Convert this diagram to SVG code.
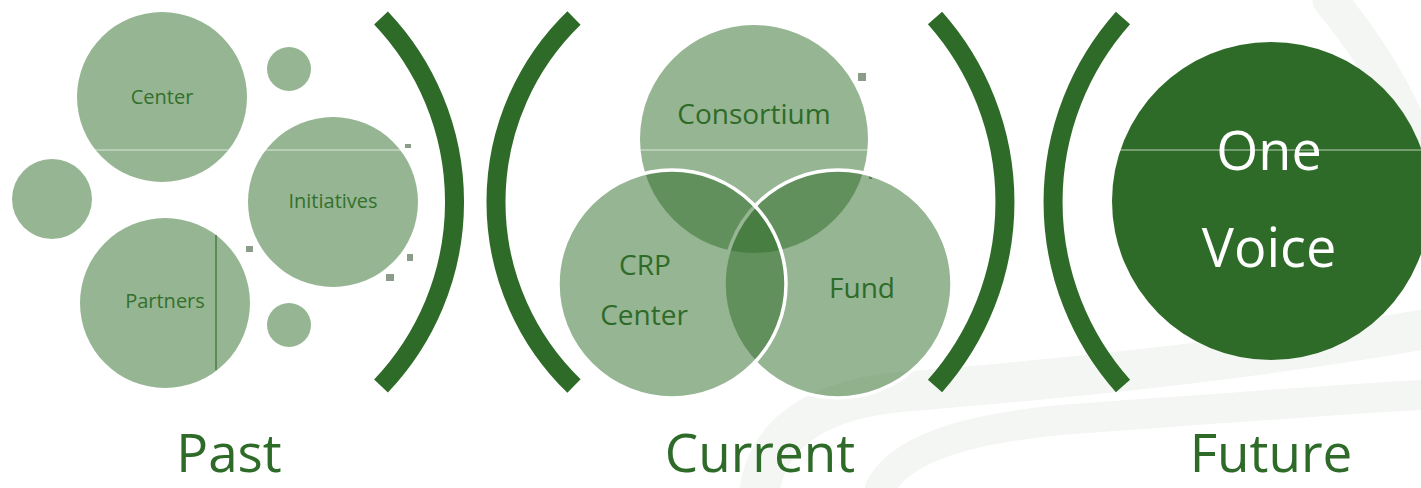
<svg xmlns="http://www.w3.org/2000/svg" width="1421" height="488" viewBox="0 0 1421 488">
  <style>
    .bg { fill: #ffffff; }
    .wm { fill: none; stroke: #f4f6f3; stroke-linecap: round; }
    .soft { fill: #2e6b28; fill-opacity: 0.5; }
    .venn { fill: #2e6b28; fill-opacity: 0.5; stroke: #ffffff; stroke-width: 3.5; }
    .dark { fill: #2e6b28; }
    .br { fill: none; stroke: #2e6b28; stroke-width: 19; stroke-linecap: butt; }
    .lbl { font-family: "Open Sans", "Noto Sans", sans-serif; fill: #2e6b28; text-anchor: middle; }
    .sm { font-size: 20px; fill: #33702c; }
    .md { font-size: 28px; }
    .big { font-size: 54px; }
    .title { font-size: 53px; }
    .white { fill: #ffffff; }
    .handle { fill: #8c9c8a; }
  </style>
  <rect class="bg" x="0" y="0" width="1421" height="488"/>

  <!-- faint background watermark -->
  <g id="watermark">
    <path class="wm" stroke-width="40" d="M760 488 C 770 430 820 400 900 392 C 1050 380 1250 360 1421 330"/>
    <path class="wm" stroke-width="30" d="M880 488 C 900 450 960 430 1060 420 C 1200 410 1330 400 1421 395"/>
    <path class="wm" stroke-width="35" d="M1330 0 C 1380 60 1410 120 1421 160"/>
  </g>

  <!-- Past -->
  <g id="past-center">
    <circle class="soft" cx="162" cy="97" r="85"/>
    <text class="lbl sm" x="162" y="104">Center</text>
  </g>
  <g id="past-small-top">
    <circle class="soft" cx="289" cy="69" r="22"/>
  </g>
  <g id="past-small-left">
    <circle class="soft" cx="52" cy="199" r="40"/>
  </g>
  <g id="past-initiatives">
    <circle class="soft" cx="333" cy="202" r="85"/>
    <text class="lbl sm" x="333" y="208">Initiatives</text>
  </g>
  <g id="past-partners">
    <circle class="soft" cx="165" cy="303" r="85"/>
    <line x1="216" y1="235" x2="216" y2="370" stroke="#4a7e43" stroke-width="1.5"/>
    <text class="lbl sm" x="165" y="308">Partners</text>
  </g>
  <g id="past-small-bottom">
    <circle class="soft" cx="289" cy="325" r="22"/>
  </g>
  <g id="handles">
    <rect class="handle" x="405" y="144" width="6" height="4"/>
    <rect class="handle" x="246" y="246" width="7" height="6"/>
    <rect class="handle" x="407" y="254" width="6" height="7"/>
    <rect class="handle" x="386" y="274" width="8" height="7"/>
    <rect class="handle" x="858" y="73" width="8" height="8"/>
    <rect class="handle" x="869" y="176" width="3" height="3"/>
  </g>

  <!-- Current -->
  <g id="current-consortium">
    <circle class="soft" cx="754" cy="139" r="114"/>
  </g>
  <g id="current-fund">
    <circle class="venn" cx="838" cy="284" r="114"/>
  </g>
  <g id="current-crp-center">
    <circle class="venn" cx="672" cy="284" r="114"/>
  </g>
  <g id="current-labels">
    <text class="lbl md" x="754" y="124">Consortium</text>
    <text class="lbl md" x="645" y="275">CRP</text>
    <text class="lbl md" x="644" y="325">Center</text>
    <text class="lbl md" x="862" y="298">Fund</text>
  </g>

  <!-- Future -->
  <g id="future-one-voice">
    <circle class="dark" cx="1271" cy="201" r="159"/>
    <text class="lbl big white" x="1269" y="170">One</text>
    <text class="lbl big white" x="1269" y="267">Voice</text>
  </g>

  <!-- scan line -->
  <line x1="0" y1="150" x2="1421" y2="150" stroke="#ffffff" stroke-opacity="0.45" stroke-width="1.5"/>

  <!-- brackets (separators) -->
  <g id="brackets">
    <path class="br" d="M381 18 A267 267 0 0 1 381 386"/>
    <path class="br" d="M574 18 A256 256 0 0 0 574 386"/>
    <path class="br" d="M935 18 A277 277 0 0 1 935 386"/>
    <path class="br" d="M1123 18 A277 277 0 0 0 1123 386"/>
  </g>

  <!-- section titles -->
  <g id="titles">
    <text class="lbl title" x="229" y="472">Past</text>
    <text class="lbl title" x="760" y="472">Current</text>
    <text class="lbl title" x="1271" y="472">Future</text>
  </g>
</svg>
